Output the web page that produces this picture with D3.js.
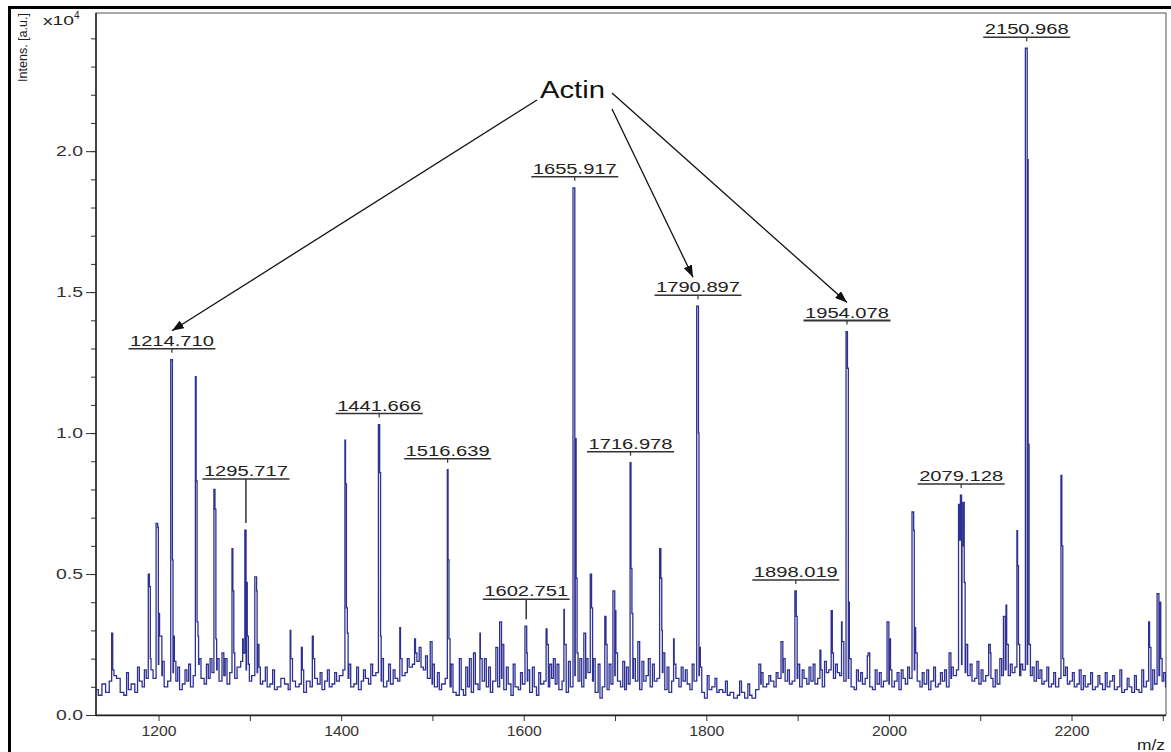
<!DOCTYPE html>
<html>
<head>
<meta charset="utf-8">
<script src="https://cdn.jsdelivr.net/npm/d3@7"></script>
<style>
	body { margin: 0; background: #fff; }
	svg { display: block; font-family: "Liberation Sans", Arial, sans-serif; }
</style>
</head>
<body>
<svg width="1171" height="752"></svg>
<script>
// baseline noise, one value every 4 m/z from 1132, intensity in units of 1e2 counts
var noiseStart = 1132, noiseStep = 4;
var noise = [
	9, 7, 11, 8, 12, 14, 13, 8, 7, 9, 11, 8, 12, 10, 13, 16, 13, 18, 14, 10, 12, 15, 12, 9, 11,
	12, 10, 14, 18, 13, 11, 13, 15, 16, 12, 14, 11, 15, 13, 17, 19, 16, 12, 14, 15, 11, 12, 10, 11, 9,
	10, 13, 11, 9, 12, 10, 11, 8, 12, 10, 13, 11, 9, 12, 10, 11, 12, 14, 16, 13, 10, 11, 9, 12, 13,
	11, 14, 15, 12, 10, 12, 11, 13, 12, 14, 15, 17, 18, 19, 17, 16, 13, 11, 10, 9, 11, 13, 10, 8, 7,
	9, 7, 10, 8, 11, 9, 12, 10, 8, 12, 10, 13, 9, 11, 7, 10, 9, 11, 12, 8, 10, 7, 11, 12, 10,
	13, 11, 9, 12, 8, 10, 14, 12, 10, 13, 15, 12, 8, 6, 10, 9, 11, 14, 12, 10, 9, 11, 13, 12, 9,
	12, 14, 10, 12, 13, 15, 9, 8, 12, 13, 10, 12, 11, 9, 12, 14, 8, 6, 9, 10, 8, 9, 8, 7, 8,
	6, 7, 8, 6, 7, 6, 9, 11, 10, 11, 12, 10, 13, 15, 12, 11, 12, 13, 10, 13, 11, 12, 11, 13, 10,
	15, 16, 13, 15, 14, 12, 13, 10, 9, 12, 11, 13, 10, 9, 11, 10, 12, 11, 10, 12, 9, 13, 11, 13, 16,
	12, 10, 11, 9, 12, 10, 11, 12, 10, 13, 14, 16, 18, 15, 14, 12, 13, 11, 12, 14, 13, 10, 11, 14, 16,
	14, 15, 17, 14, 16, 18, 14, 12, 13, 11, 12, 10, 11, 10, 13, 14, 11, 12, 10, 11, 9, 10, 11, 9, 10,
	11, 9, 10, 12, 9, 10, 8, 9, 10, 8, 9, 8, 10, 12, 9, 11, 14, 12, 10
];

// peaks: [m/z, intensity x1e4]
var peaks = [
	[1149.3, 0.29], [1150.3, 0.16], [1166, 0.15], [1178, 0.17], [1185, 0.16],
	[1189.5, 0.50], [1190.5, 0.455], [1191.5, 0.2],
	[1198.6, 0.68], [1199.6, 0.665], [1200.6, 0.36], [1201.6, 0.28], [1203.3, 0.28], [1204.3, 0.19],
	[1214.71, 1.26], [1215.7, 0.55], [1216.7, 0.28], [1218, 0.19], [1222, 0.17], [1230, 0.16], [1234, 0.18],
	[1240.7, 1.20], [1241.7, 0.83], [1242.7, 0.33], [1243.7, 0.28], [1245, 0.2], [1253, 0.18], [1257, 0.2],
	[1261.3, 0.80], [1262.3, 0.73], [1263.3, 0.27], [1264.5, 0.2], [1271, 0.22], [1274, 0.2],
	[1280.9, 0.59], [1281.9, 0.44], [1283, 0.22], [1292.3, 0.27], [1293.3, 0.22],
	[1295.72, 0.656], [1296.7, 0.47], [1297.7, 0.28], [1299, 0.18],
	[1306.9, 0.49], [1307.9, 0.44], [1309, 0.25], [1311, 0.17], [1318, 0.17], [1326, 0.16],
	[1344.4, 0.30], [1345.4, 0.2], [1356.9, 0.24], [1358, 0.16], [1368.9, 0.28], [1370, 0.2],
	[1378, 0.15], [1386, 0.16], [1394, 0.15],
	[1404.3, 0.975], [1405.3, 0.82], [1406.3, 0.38], [1407.3, 0.29], [1409, 0.18], [1418, 0.17], [1425, 0.16], [1433, 0.18],
	[1441.67, 1.03], [1442.7, 0.86], [1443.7, 0.28], [1444.7, 0.2], [1452, 0.18], [1458, 0.16],
	[1464.5, 0.31], [1465.5, 0.2], [1473, 0.2], [1480.9, 0.27], [1482, 0.22], [1487, 0.24], [1493, 0.21],
	[1499.2, 0.26], [1500.2, 0.18], [1507, 0.15],
	[1516.64, 0.87], [1517.6, 0.55], [1518.6, 0.27], [1521, 0.18], [1531, 0.2], [1537, 0.17], [1541, 0.2], [1546, 0.22],
	[1552, 0.29], [1553, 0.2], [1558, 0.2], [1563, 0.17], [1571, 0.24], [1575.3, 0.33], [1576.3, 0.25],
	[1582, 0.17], [1589, 0.18], [1597, 0.15], [1602.75, 0.315], [1603.8, 0.22], [1605, 0.16], [1611, 0.17], [1617, 0.15],
	[1625, 0.305], [1626, 0.25], [1629, 0.18], [1633, 0.2], [1637, 0.18], [1644, 0.375], [1645, 0.25], [1650, 0.19],
	[1655.92, 1.87], [1656.9, 0.98], [1657.9, 0.485], [1659, 0.22], [1663, 0.2], [1667.7, 0.29], [1668.7, 0.2],
	[1673.8, 0.50], [1674.8, 0.38], [1676.5, 0.2], [1683, 0.18], [1689.6, 0.35], [1690.6, 0.25],
	[1695, 0.18], [1699.4, 0.44], [1700.4, 0.37], [1701.5, 0.22], [1709, 0.19], [1713, 0.17],
	[1716.98, 0.895], [1718, 0.52], [1719, 0.36], [1720.5, 0.2], [1726, 0.26], [1731, 0.19], [1737, 0.2], [1742, 0.18],
	[1749.7, 0.59], [1750.7, 0.485], [1751.7, 0.3], [1753, 0.22], [1758, 0.17], [1764.3, 0.27], [1765.3, 0.18],
	[1773, 0.17], [1778, 0.16], [1785, 0.18],
	[1790.9, 1.45], [1791.9, 1.0], [1792.9, 0.24], [1794, 0.17],
	[1802, 0.14], [1811, 0.13], [1822, 0.12], [1837, 0.12], [1847, 0.11], [1859.2, 0.18], [1860.2, 0.15],
	[1869, 0.14], [1877, 0.15], [1883.6, 0.26], [1884.6, 0.2], [1890, 0.16],
	[1898.02, 0.44], [1899, 0.35], [1900.5, 0.18], [1906, 0.16], [1913, 0.17], [1918, 0.18],
	[1924.9, 0.23], [1926, 0.16], [1931, 0.19], [1937.5, 0.37], [1938.5, 0.22], [1943, 0.18],
	[1948.2, 0.33], [1949.2, 0.26], [1954.08, 1.36], [1955.1, 1.23], [1956.1, 0.40], [1957.2, 0.2],
	[1965, 0.16], [1970, 0.15], [1976.6, 0.21], [1978, 0.22], [1986, 0.16], [1991, 0.15],
	[1999.9, 0.33], [2001, 0.27], [2002.5, 0.16], [2010, 0.15], [2015, 0.16], [2021, 0.17],
	[2026.6, 0.72], [2027.6, 0.655], [2028.6, 0.31], [2030, 0.22],
	[2037, 0.15], [2043, 0.16], [2050, 0.17], [2057, 0.15], [2062, 0.16], [2067.8, 0.22], [2069, 0.17],
	[2076.5, 0.747], [2077.5, 0.62], [2079.13, 0.78], [2080.1, 0.60], [2082, 0.754], [2083, 0.47], [2084.5, 0.25],
	[2090, 0.18], [2097, 0.19], [2102, 0.16], [2110.5, 0.25], [2111.5, 0.22], [2117, 0.16],
	[2123, 0.2], [2126.9, 0.35], [2128.5, 0.39], [2129.5, 0.25], [2134, 0.18],
	[2140.4, 0.654], [2141.4, 0.53], [2142.4, 0.25], [2145, 0.18],
	[2150.97, 2.365], [2152, 1.97], [2153, 0.96], [2154, 0.25],
	[2158, 0.17], [2163, 0.19], [2167, 0.16], [2174, 0.17], [2181, 0.15],
	[2188.9, 0.85], [2189.9, 0.60], [2191, 0.2], [2195, 0.17],
	[2202, 0.15], [2209, 0.16], [2214, 0.14], [2222, 0.15], [2230, 0.14], [2238, 0.15], [2246, 0.14],
	[2254, 0.16], [2262, 0.13], [2270, 0.14], [2278, 0.16], [2285, 0.33], [2286, 0.24], [2290, 0.16],
	[2295.5, 0.43], [2297, 0.40], [2298.5, 0.2], [2302, 0.15]
];

var peakLabels = ["1214.710", "1295.717", "1441.666", "1516.639", "1602.751", "1655.917",
	"1716.978", "1790.897", "1898.019", "1954.078", "2079.128", "2150.968"];
var actinTargets = ["1214.710", "1790.897", "1954.078"];
var yTicks = [0, 0.5, 1.0, 1.5, 2.0];
var xTicks = [1200, 1400, 1600, 1800, 2000, 2200];
var xMinorTicks = [1300, 1500, 1700, 1900, 2100, 2300];

var svg = d3.select("svg");
var plotL = 96, plotR = 1166, plotT = 13, plotB = 715;

var x = d3.scaleLinear().domain([1131.5, 2303.5]).range([plotL, plotR]);
var y = d3.scaleLinear().domain([0, 2.49]).range([plotB, plotT]);

// outer picture border
svg.append("rect").attr("x", 9.5).attr("y", 7.5).attr("width", 1200).attr("height", 800)
	.attr("fill", "none").attr("stroke", "#000").attr("stroke-width", 3);

// plot frame
svg.append("rect").attr("x", plotL).attr("y", plotT).attr("width", plotR - plotL).attr("height", plotB - plotT)
	.attr("fill", "none").attr("stroke", "#555").attr("stroke-width", 1);

svg.append("clipPath").attr("id", "plot").append("rect")
	.attr("x", plotL).attr("y", plotT).attr("width", plotR - plotL).attr("height", plotB - plotT);

// spectrum
var spectrum = noise.map(function (v, i) { return { mz: noiseStart + i * noiseStep, v: v / 100 }; })
	.concat(peaks.map(function (p) { return { mz: p[0], v: p[1] }; }))
	.sort(function (a, b) { return a.mz - b.mz; });

var line = d3.line()
	.x(function (d) { return x(d.mz); })
	.y(function (d) { return y(d.v); })
	.curve(d3.curveStep);

svg.append("path")
	.datum(spectrum)
	.attr("clip-path", "url(#plot)")
	.attr("fill", "none")
	.attr("stroke", "#2e3192")
	.attr("stroke-width", 1.3)
	.attr("d", line);

// axes
var axisColor = "#333";
function styleAxis(g) {
	g.select(".domain").remove();
	g.selectAll("line").attr("stroke", axisColor);
	g.selectAll("text").attr("fill", "#333").attr("font-size", 14);
}

svg.append("g").attr("transform", "translate(" + plotL + ",0)")
	.call(d3.axisLeft(y).tickValues(d3.range(0.1, 2.45, 0.1)).tickSize(5).tickFormat(""))
	.call(styleAxis);
svg.append("g").attr("transform", "translate(" + plotL + ",0)")
	.call(d3.axisLeft(y).tickValues(yTicks).tickSize(10).tickPadding(3).tickFormat(d3.format(".1f")))
	.call(styleAxis)
	.selectAll("text").attr("textLength", 27).attr("lengthAdjust", "spacingAndGlyphs");

svg.append("g").attr("transform", "translate(0," + plotB + ")")
	.call(d3.axisBottom(x).tickValues(xMinorTicks).tickSize(6).tickFormat(""))
	.call(styleAxis);
svg.append("g").attr("transform", "translate(0," + plotB + ")")
	.call(d3.axisBottom(x).tickValues(xTicks).tickSize(6).tickPadding(5).tickFormat(d3.format("d")))
	.call(styleAxis)
	.selectAll("text").attr("textLength", 35).attr("lengthAdjust", "spacingAndGlyphs");

svg.append("line").attr("x1", plotL).attr("x2", plotR).attr("y1", plotB + 0.5).attr("y2", plotB + 0.5)
	.attr("stroke", "#222").attr("stroke-width", 1.5);
svg.append("line").attr("x1", plotL).attr("x2", plotL).attr("y1", plotT).attr("y2", plotB)
	.attr("stroke", "#222").attr("stroke-width", 1.5);

// axis titles
svg.append("text").attr("transform", "translate(27,82) rotate(-90)")
	.attr("font-size", 12).attr("fill", "#222")
	.attr("textLength", 69).attr("lengthAdjust", "spacingAndGlyphs")
	.text("Intens. [a.u.]");
var mult = svg.append("text").attr("x", 43).attr("y", 25).attr("font-size", 12).attr("fill", "#222");
mult.append("tspan").attr("textLength", 31).attr("lengthAdjust", "spacingAndGlyphs").text("x10");
mult.append("tspan").attr("dy", -6).attr("font-size", 10).text("4");
svg.append("text").attr("x", 1165).attr("y", 750).attr("text-anchor", "end")
	.attr("font-size", 14).attr("fill", "#222")
	.attr("textLength", 28).attr("lengthAdjust", "spacingAndGlyphs")
	.text("m/z");

// peak labels
var stemLength = { "1295.717": 44, "1602.751": 20 };
var labelPos = {};
peakLabels.forEach(function (lab) {
	var mz = +lab;
	var h = d3.max(peaks.filter(function (p) { return Math.abs(p[0] - mz) < 1.5; }), function (p) { return p[1]; });
	var px = x(mz), py = y(h);
	var stem = stemLength[lab] || 4;
	var uy = py - 7 - stem;
	labelPos[lab] = { x: px, y: uy - 18 };
	svg.append("line").attr("x1", px).attr("x2", px).attr("y1", uy).attr("y2", uy + stem)
		.attr("stroke", "#333").attr("stroke-width", stem > 4 ? 1.5 : 1.2);
	svg.append("line").attr("x1", px - 43.5).attr("x2", px + 43.5).attr("y1", uy).attr("y2", uy)
		.attr("stroke", "#333").attr("stroke-width", lab === "1954.078" ? 2 : 1.5);
	svg.append("text").attr("x", px).attr("y", uy - 3).attr("text-anchor", "middle")
		.attr("font-size", 15).attr("fill", "#222")
		.attr("textLength", 84).attr("lengthAdjust", "spacingAndGlyphs")
		.text(lab);
});

// Actin annotation
var defs = svg.append("defs");
defs.append("marker").attr("id", "arrow").attr("markerUnits", "userSpaceOnUse")
	.attr("markerWidth", 13).attr("markerHeight", 9).attr("refX", 12).attr("refY", 4.5).attr("orient", "auto")
	.append("path").attr("d", "M0,0 L12,4.5 L0,9 Z").attr("fill", "#111");

var actin = { x: 540, y: 98 };
svg.append("text").attr("x", actin.x).attr("y", actin.y)
	.attr("font-size", 23).attr("fill", "#111")
	.attr("textLength", 65).attr("lengthAdjust", "spacingAndGlyphs")
	.text("Actin");

var arrowStarts = [[actin.x - 3, actin.y + 2], [actin.x + 72, actin.y + 11], [actin.x + 72, actin.y - 5]];
var arrowDx = [0, -5, 0];
actinTargets.forEach(function (lab, i) {
	var t = labelPos[lab];
	svg.append("line")
		.attr("x1", arrowStarts[i][0]).attr("y1", arrowStarts[i][1])
		.attr("x2", t.x + arrowDx[i]).attr("y2", t.y)
		.attr("stroke", "#111").attr("stroke-width", 1.3)
		.attr("marker-end", "url(#arrow)");
});
</script>
</body>
</html>
